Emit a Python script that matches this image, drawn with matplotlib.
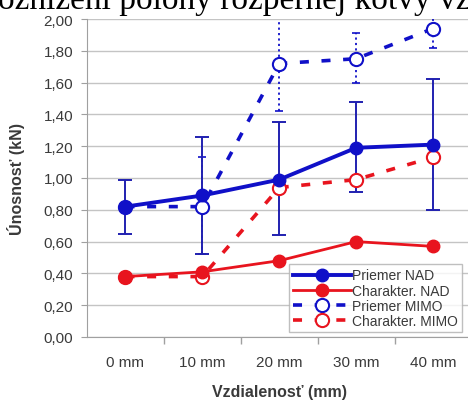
import matplotlib

matplotlib.use("Agg")
import matplotlib.pyplot as plt
import numpy as np

# categories and series
categories = ["0 mm", "10 mm", "20 mm", "30 mm", "40 mm"]
priemer_nad = [0.82, 0.89, 0.99, 1.19, 1.21]
priemer_nad_lo = [0.65, 0.52, 0.64, 0.91, 0.80]
priemer_nad_hi = [0.99, 1.26, 1.35, 1.48, 1.62]
charakter_nad = [0.38, 0.41, 0.48, 0.60, 0.57]
priemer_mimo = [0.82, 0.82, 1.72, 1.75, 1.94]
priemer_mimo_lo = [0.82, 0.52, 1.42, 1.60, 1.82]
priemer_mimo_hi = [0.82, 1.13, 2.10, 1.91, 2.10]
charakter_mimo = [0.38, 0.38, 0.94, 0.99, 1.13]

BLUE = "#1010c8"
RED = "#e8141e"
GRID = "#c4c4c4"
TXT = "#3a3a3a"

plt.rcParams["font.family"] = ["Liberation Sans", "DejaVu Sans"]

fig = plt.figure(figsize=(4.68, 4.02), dpi=100)
ax = fig.add_axes([87 / 468, 1 - 338 / 402, 384.5 / 468, 318 / 402])
x = np.arange(len(categories))

# error bars (MIMO dotted, NAD solid)
eb_m = ax.errorbar(x, priemer_mimo,
                   yerr=[np.subtract(priemer_mimo, priemer_mimo_lo),
                         np.subtract(priemer_mimo_hi, priemer_mimo)],
                   fmt="none", ecolor=BLUE, elinewidth=1.3, capsize=3,
                   capthick=1.2, zorder=2)
for lc in eb_m[2]:
    lc.set_linestyle((0, (1.2, 1.8)))
ax.errorbar(x, priemer_nad,
            yerr=[np.subtract(priemer_nad, priemer_nad_lo),
                  np.subtract(priemer_nad_hi, priemer_nad)],
            fmt="none", ecolor="#2020b0", elinewidth=1.4, capsize=5,
            capthick=1.4, zorder=3)

ax.plot(x, priemer_nad, color=BLUE, lw=2.8, marker="o", ms=9,
        mfc=BLUE, mec=BLUE, label="Priemer NAD", zorder=5)
ax.plot(x, charakter_nad, color=RED, lw=2.0, marker="o", ms=9,
        mfc=RED, mec=RED, label="Charakter. NAD", zorder=5)
ax.plot(x, priemer_mimo, color=BLUE, lw=2.6, ls=(0, (2.5, 3.5)), marker="o",
        ms=9.5, mfc="white", mec=BLUE, mew=1.5, label="Priemer MIMO", zorder=4)
ax.plot(x, charakter_mimo, color=RED, lw=2.6, ls=(0, (2.5, 3.5)), marker="o",
        ms=9.5, mfc="white", mec=RED, mew=1.5, label="Charakter. MIMO", zorder=4)

ax.set_xlim(-0.5, 4.5)
ax.set_ylim(0, 2.0)
yt = np.arange(0, 2.01, 0.2)
ax.set_yticks(yt)
ax.set_yticklabels([f"{v:.2f}".replace(".", ",") for v in yt])
ax.yaxis.grid(True, color=GRID, lw=1.0)
ax.set_axisbelow(True)
ax.set_xticks(x)
ax.set_xticklabels(categories)
ax.set_xticks(np.arange(0.5, 4.5, 1.0), minor=True)
ax.tick_params(axis="x", which="major", length=0, pad=13, labelsize=11,
               labelcolor=TXT)
ax.tick_params(axis="x", which="minor", length=5, color="#a0a0a0", width=1)
ax.tick_params(axis="y", length=4, color="#a0a0a0", labelsize=11,
               labelcolor=TXT, pad=6)
for s in ["top", "right"]:
    ax.spines[s].set_visible(False)
for s in ["left", "bottom"]:
    ax.spines[s].set_color("#a0a0a0")
ax.set_ylabel("Únosnosť (kN)", fontsize=11.5, fontweight="bold", color=TXT)
ax.yaxis.set_label_coords(-62 / 384.5, 0.5)
ax.set_xlabel("Vzdialenosť (mm)", fontsize=11.5, fontweight="bold", color=TXT)
ax.xaxis.set_label_coords(0.5, -47 / 318)

leg = ax.legend(loc="lower right", bbox_to_anchor=(375 / 384.5, 5 / 318),
                fontsize=10, frameon=True, fancybox=False, edgecolor="#b0b0b0",
                handlelength=4.2, handletextpad=0.05, labelspacing=0.08,
                borderpad=0.3, borderaxespad=0)
leg.get_frame().set_linewidth(1.0)
for t in leg.get_texts():
    t.set_color(TXT)

fig.text(-0.005, 1 - 8.5 / 402, "oznížení polohy rozpernej kotvy vz",
         family=["Liberation Serif", "DejaVu Serif"], fontsize=24,
         va="baseline", ha="left", color="black")

fig.savefig("out.png", dpi=100)
